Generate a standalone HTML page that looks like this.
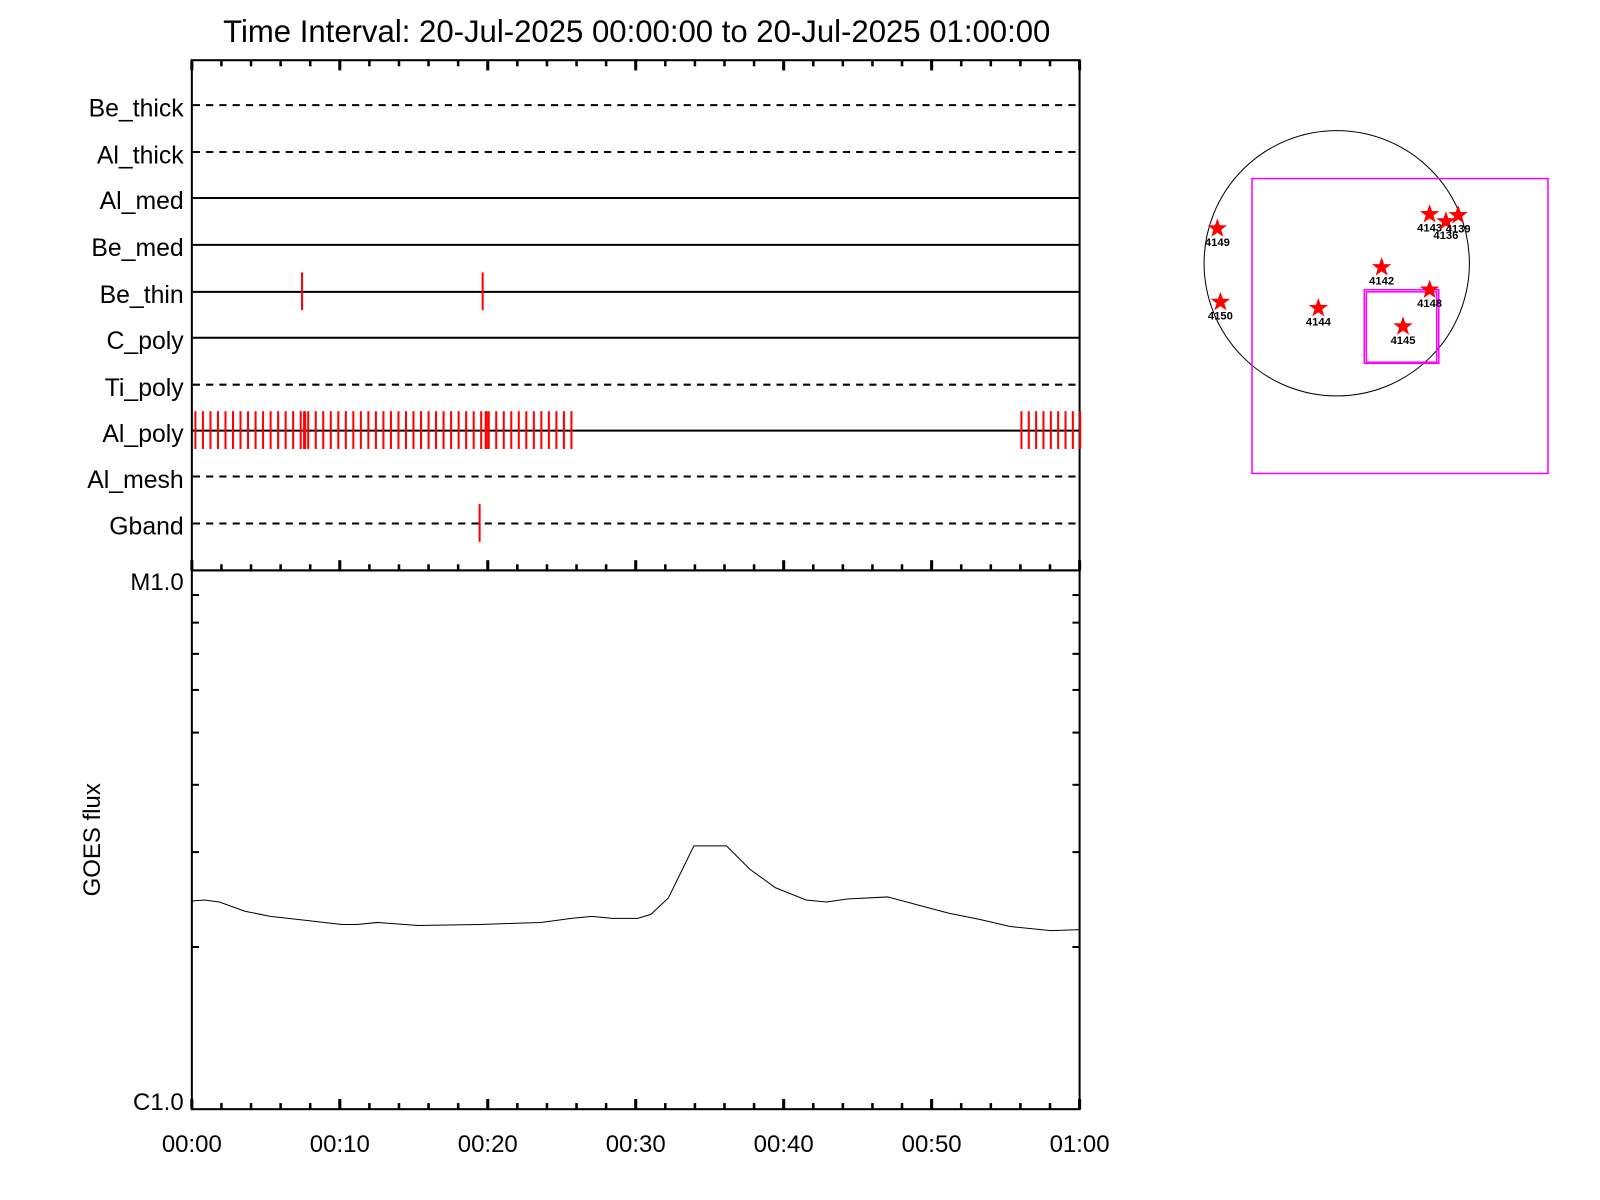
<!DOCTYPE html>
<html><head><meta charset="utf-8"><style>html,body{margin:0;padding:0;background:#fff}svg{display:block}</style></head>
<body>
<svg width="1600" height="1200" viewBox="0 0 1568 1176" xmlns="http://www.w3.org/2000/svg" font-family="Liberation Sans, sans-serif">
<rect width="1568" height="1176" fill="#fff"/>
<text x="624" y="41" font-size="30.5" text-anchor="middle">Time Interval: 20-Jul-2025 00:00:00 to 20-Jul-2025 01:00:00</text>
<g stroke="#000" stroke-width="2" fill="none">
<rect x="188" y="59" width="870" height="500"/>
<rect x="188" y="559" width="870" height="528"/>
</g>
<g stroke="#000" stroke-width="2">
<line x1="189" y1="103" x2="1057" y2="103" stroke-dasharray="7,6"/>
<line x1="189" y1="149" x2="1057" y2="149" stroke-dasharray="7,6"/>
<line x1="189" y1="194" x2="1057" y2="194"/>
<line x1="189" y1="240" x2="1057" y2="240"/>
<line x1="189" y1="286" x2="1057" y2="286"/>
<line x1="189" y1="331" x2="1057" y2="331"/>
<line x1="189" y1="377" x2="1057" y2="377" stroke-dasharray="7,6"/>
<line x1="189" y1="422" x2="1057" y2="422"/>
<line x1="189" y1="467" x2="1057" y2="467" stroke-dasharray="7,6"/>
<line x1="189" y1="513" x2="1057" y2="513" stroke-dasharray="7,6"/>
</g>
<g font-size="24.3" text-anchor="end">
<text x="180" y="114">Be_thick</text>
<text x="180" y="160">Al_thick</text>
<text x="180" y="205">Al_med</text>
<text x="180" y="251">Be_med</text>
<text x="180" y="297">Be_thin</text>
<text x="180" y="342">C_poly</text>
<text x="180" y="388">Ti_poly</text>
<text x="180" y="433">Al_poly</text>
<text x="180" y="478">Al_mesh</text>
<text x="180" y="524">Gband</text>
</g>
<g stroke="#f00" stroke-width="2" id="red"></g>
<g stroke="#000" stroke-width="2" id="ticks"></g>
<polyline fill="none" stroke="#000" stroke-width="1" points="188,883 200,882 215,884 240,893 265,898 300,902 335,906 350,906 370,904 410,907 470,906 530,904 560,900 580,898 600,900 625,900 638,896 655,880 680,829 712,829 735,852 760,870 790,882 810,884 830,881 870,879 900,887 930,895 960,901 990,908 1030,912 1058,911"/>
<g font-size="23.5">
<text x="180" y="578" text-anchor="end">M1.0</text>
<text x="180" y="1088" text-anchor="end">C1.0</text>
<text x="188" y="1129" text-anchor="middle">00:00</text>
<text x="333" y="1129" text-anchor="middle">00:10</text>
<text x="478" y="1129" text-anchor="middle">00:20</text>
<text x="623" y="1129" text-anchor="middle">00:30</text>
<text x="768" y="1129" text-anchor="middle">00:40</text>
<text x="913" y="1129" text-anchor="middle">00:50</text>
<text x="1058" y="1129" text-anchor="middle">01:00</text>
<text transform="translate(98,823) rotate(-90)" text-anchor="middle">GOES flux</text>
</g>
<circle cx="1310" cy="258" r="130" fill="none" stroke="#000" stroke-width="1"/>
<g fill="none" stroke="#f0f" stroke-width="1.5">
<rect x="1227" y="175" width="290" height="289"/>
<rect x="1337" y="284" width="73" height="72"/>
<rect x="1339" y="286" width="69" height="69"/>
</g>
<g id="stars"></g>
<script>
var NS="http://www.w3.org/2000/svg";
function L(g,x1,y1,x2,y2,w){var l=document.createElementNS(NS,"line");l.setAttribute("x1",x1);l.setAttribute("y1",y1);l.setAttribute("x2",x2);l.setAttribute("y2",y2);if(w)l.setAttribute("stroke-width",w);g.appendChild(l);}
var r=document.getElementById("red");
L(r,296,267,296,304);L(r,473,267,473,304);L(r,470,494,470,531);
for(var i=0;i<51;i++){var x=191.5+i*7.37;L(r,x,403,x,440);}
L(r,298.5,403,298.5,440,3);L(r,476.5,403,476.5,440,3);
for(var i=0;i<9;i++){var x=1001+i*7.2;L(r,x,403,x,440);}
var t=document.getElementById("ticks");
for(var m=0;m<=60;m+=2){var x=188+m*14.5,big=(m%10==0);var h=big?10:6;var w=big?3:2.5;
L(t,x,59,x,59+h,w);L(t,x,559,x,559-h,w);L(t,x,1087,x,1087-h,w);}
[2,3,4,5,6,7,8,9].forEach(function(v){var y=1087-Math.log10(v)*528;L(t,188,y,195,y);L(t,1058,y,1051,y);});
var s=document.getElementById("stars");
var st=[[1193,224,"4149"],[1196,296,"4150"],[1292,302,"4144"],[1354,262,"4142"],[1401,210,"4143"],[1417,217,"4136"],[1429,211,"4139"],[1401,284,"4148"],[1375,320,"4145"]];
st.forEach(function(p){var pts=[];for(var k=0;k<10;k++){var a=-Math.PI/2+k*Math.PI/5,rr=(k%2?4:10);pts.push((p[0]+rr*Math.cos(a)).toFixed(1)+","+(p[1]+rr*Math.sin(a)).toFixed(1));}
var pg=document.createElementNS(NS,"polygon");pg.setAttribute("points",pts.join(" "));pg.setAttribute("fill","#f00");s.appendChild(pg);
var tx=document.createElementNS(NS,"text");tx.setAttribute("x",p[0]);tx.setAttribute("y",p[1]+17);tx.setAttribute("font-size","11");tx.setAttribute("font-weight","bold");tx.setAttribute("text-anchor","middle");tx.textContent=p[2];s.appendChild(tx);});
</script>
</svg>
</body></html>
